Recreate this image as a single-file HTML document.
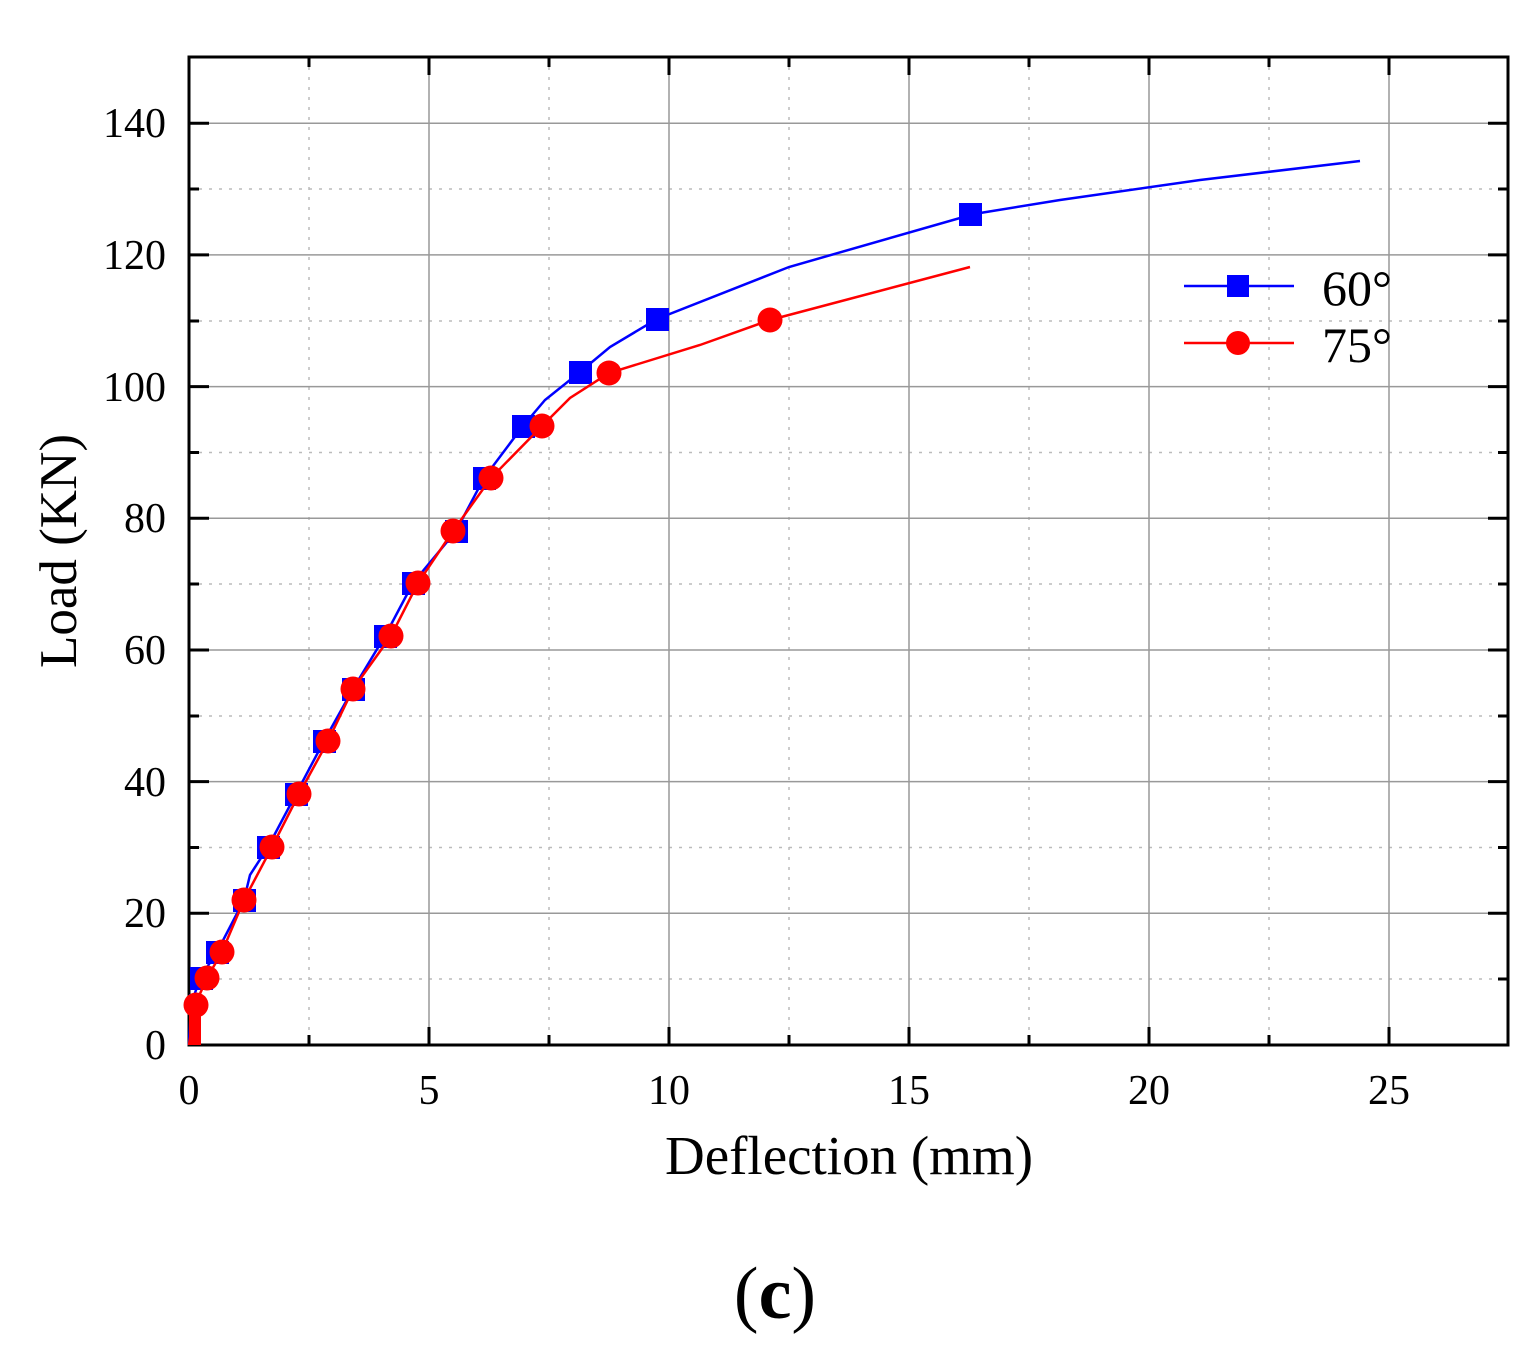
<!DOCTYPE html>
<html><head><meta charset="utf-8"><style>body{margin:0;background:#fff}svg{display:block}</style></head><body>
<svg width="1536" height="1348" viewBox="0 0 1536 1348" xmlns="http://www.w3.org/2000/svg" font-family="Liberation Serif, serif">
<g stroke="#bbb" stroke-width="1.5" stroke-dasharray="3,7">
<line x1="309" y1="57" x2="309" y2="1045"/><line x1="549" y1="57" x2="549" y2="1045"/><line x1="789" y1="57" x2="789" y2="1045"/><line x1="1029" y1="57" x2="1029" y2="1045"/><line x1="1269" y1="57" x2="1269" y2="1045"/>
<line x1="189" y1="979" x2="1508" y2="979"/><line x1="189" y1="847.5" x2="1508" y2="847.5"/><line x1="189" y1="716" x2="1508" y2="716"/><line x1="189" y1="584" x2="1508" y2="584"/><line x1="189" y1="452.5" x2="1508" y2="452.5"/><line x1="189" y1="321" x2="1508" y2="321"/><line x1="189" y1="189" x2="1508" y2="189"/>
</g>
<g stroke="#999" stroke-width="1.5">
<line x1="429" y1="57" x2="429" y2="1045"/><line x1="669" y1="57" x2="669" y2="1045"/><line x1="909" y1="57" x2="909" y2="1045"/><line x1="1149" y1="57" x2="1149" y2="1045"/><line x1="1389" y1="57" x2="1389" y2="1045"/>
<line x1="189" y1="913.3" x2="1508" y2="913.3"/><line x1="189" y1="781.6" x2="1508" y2="781.6"/><line x1="189" y1="650" x2="1508" y2="650"/><line x1="189" y1="518.3" x2="1508" y2="518.3"/><line x1="189" y1="386.6" x2="1508" y2="386.6"/><line x1="189" y1="254.9" x2="1508" y2="254.9"/><line x1="189" y1="123.2" x2="1508" y2="123.2"/>
</g>
<g stroke="#000" stroke-width="3">
<path d="M429 1045v-18M669 1045v-18M909 1045v-18M1149 1045v-18M1389 1045v-18M309 1045v-10M549 1045v-10M789 1045v-10M1029 1045v-10M1269 1045v-10"/>
<path d="M429 57v18M669 57v18M909 57v18M1149 57v18M1389 57v18M309 57v10M549 57v10M789 57v10M1029 57v10M1269 57v10"/>
<path d="M189 913.3h20M189 781.6h20M189 650h20M189 518.3h20M189 386.6h20M189 254.9h20M189 123.2h20M189 979h10M189 847.5h10M189 716h10M189 584h10M189 452.5h10M189 321h10M189 189h10"/>
<path d="M1508 913.3h-20M1508 781.6h-20M1508 650h-20M1508 518.3h-20M1508 386.6h-20M1508 254.9h-20M1508 123.2h-20M1508 979h-10M1508 847.5h-10M1508 716h-10M1508 584h-10M1508 452.5h-10M1508 321h-10M1508 189h-10"/>
<rect x="189" y="57" width="1319" height="988" fill="none"/>
</g>
<polyline fill="none" stroke="#0000ff" stroke-width="2.5" points="189,1045 191,1005 200,978 217,952 244,900 250,875 268,847 296,794 324,741 353,689 385,636 413,583 456,531 484,478 523,426 545,400 580,372 610,347 657,319 789,267 974,214 1060,200 1200,180 1360,161"/>
<g fill="#0000ff">
<rect x="959" y="203" width="23" height="23"/><rect x="646" y="308" width="23" height="23"/><rect x="569" y="361" width="23" height="23"/><rect x="512" y="415" width="23" height="23"/><rect x="473" y="467" width="23" height="23"/><rect x="445" y="520" width="23" height="23"/><rect x="402" y="572" width="23" height="23"/><rect x="374" y="625" width="23" height="23"/><rect x="342" y="678" width="23" height="23"/><rect x="313" y="730" width="23" height="23"/><rect x="285" y="783" width="23" height="23"/><rect x="257" y="836" width="23" height="23"/><rect x="233" y="889" width="23" height="23"/><rect x="206" y="941" width="23" height="23"/><rect x="190" y="967" width="23" height="23"/><rect x="189" y="994" width="12" height="23"/>
</g>
<polyline fill="none" stroke="#ff0000" stroke-width="2.5" points="189,1045 192,1025 195,1005 207,978 222,952 244,900 272,847 299,794 328,741 353,689 391,636 418,583 453,531 491,478 542,426 570,398 609,373 700,345 770,320 970,267"/>
<g fill="#ff0000">
<circle cx="770" cy="320" r="12.5"/><circle cx="609" cy="373" r="12.5"/><circle cx="542" cy="426" r="12.5"/><circle cx="491" cy="478" r="12.5"/><circle cx="453" cy="531" r="12.5"/><circle cx="418" cy="583" r="12.5"/><circle cx="391" cy="636" r="12.5"/><circle cx="353" cy="689" r="12.5"/><circle cx="328" cy="741" r="12.5"/><circle cx="299" cy="794" r="12.5"/><circle cx="272" cy="847" r="12.5"/><circle cx="244" cy="900" r="12.5"/><circle cx="222" cy="952" r="12.5"/><circle cx="207" cy="978" r="12.5"/><circle cx="196" cy="1005" r="12.5"/><rect x="189" y="1010" width="12" height="35"/>
</g>
<line x1="1184" y1="286" x2="1294" y2="286" stroke="#0000ff" stroke-width="2.5"/><rect x="1227" y="275" width="22" height="22" fill="#0000ff"/>
<line x1="1184" y1="343" x2="1294" y2="343" stroke="#ff0000" stroke-width="2.5"/><circle cx="1238" cy="343" r="12" fill="#ff0000"/>
<text x="1322" y="305" font-size="50">60°</text>
<text x="1322" y="362" font-size="50">75°</text>
<g font-size="42" text-anchor="end">
<text x="166" y="1059">0</text><text x="166" y="927">20</text><text x="166" y="796">40</text><text x="166" y="664">60</text><text x="166" y="532">80</text><text x="166" y="401">100</text><text x="166" y="269">120</text><text x="166" y="137">140</text>
</g>
<g font-size="42" text-anchor="middle">
<text x="189" y="1104">0</text><text x="429" y="1104">5</text><text x="669" y="1104">10</text><text x="909" y="1104">15</text><text x="1149" y="1104">20</text><text x="1389" y="1104">25</text>
</g>
<text x="849" y="1174" font-size="55" text-anchor="middle">Deflection (mm)</text>
<text transform="translate(76,551) rotate(-90)" font-size="53" text-anchor="middle">Load (KN)</text>
<text x="775" y="1318" font-size="74" text-anchor="middle"><tspan>(</tspan><tspan font-weight="bold">c</tspan><tspan>)</tspan></text>
</svg>
</body></html>
